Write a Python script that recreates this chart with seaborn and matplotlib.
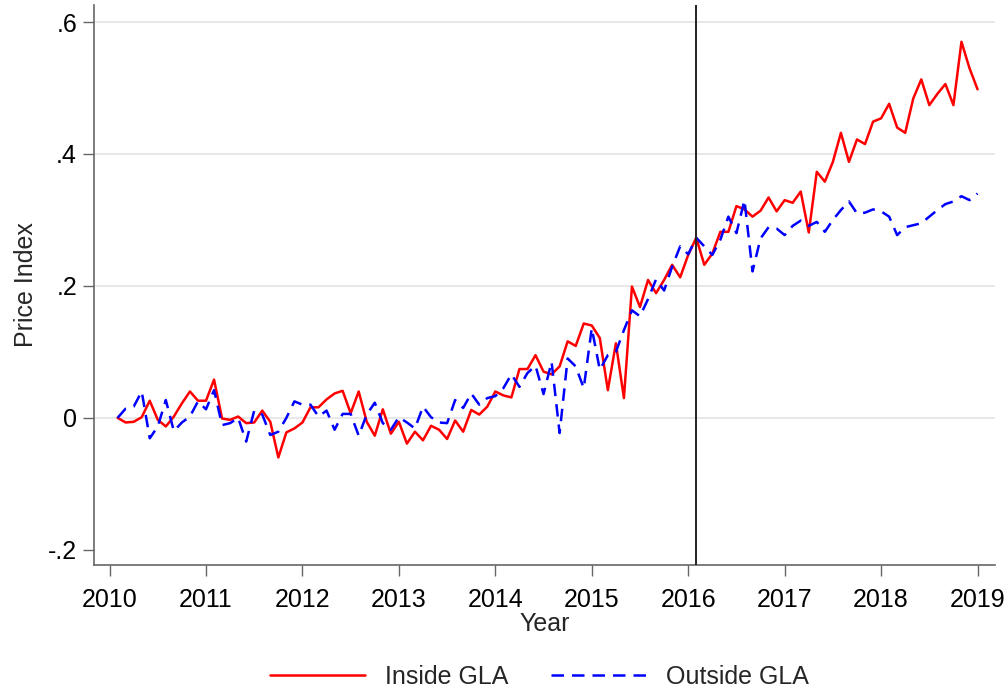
import numpy as np
import pandas as pd
import seaborn as sns
import matplotlib.pyplot as plt

# monthly price index, Jan 2010 - Dec 2018
months = pd.date_range('2010-01-01', periods=108, freq='MS')
year = months.year + months.month / 12

inside = [0.000, -0.007, -0.006, 0.001, 0.026, -0.003, -0.013, 0.002, 0.022, 0.040,
          0.026, 0.026, 0.058, -0.001, -0.003, 0.002, -0.008, -0.007, 0.011, -0.006,
          -0.060, -0.022, -0.016, -0.007, 0.016, 0.016, 0.028, 0.037, 0.041, 0.007,
          0.040, -0.006, -0.027, 0.013, -0.024, -0.006, -0.039, -0.021, -0.034, -0.012,
          -0.018, -0.032, -0.004, -0.021, 0.012, 0.005, 0.017, 0.040, 0.034, 0.031,
          0.074, 0.074, 0.095, 0.070, 0.066, 0.078, 0.116, 0.109, 0.143, 0.140,
          0.121, 0.042, 0.113, 0.030, 0.199, 0.168, 0.209, 0.189, 0.209, 0.232,
          0.213, 0.247, 0.273, 0.232, 0.249, 0.282, 0.282, 0.321, 0.316, 0.305,
          0.314, 0.334, 0.313, 0.330, 0.326, 0.343, 0.281, 0.373, 0.358, 0.388,
          0.432, 0.388, 0.422, 0.415, 0.449, 0.454, 0.476, 0.440, 0.432, 0.484,
          0.513, 0.474, 0.491, 0.506, 0.474, 0.570, 0.530, 0.498]

outside = [0.000, 0.014, 0.017, 0.040, -0.031, -0.013, 0.027, -0.020, -0.007, 0.002,
           0.025, 0.013, 0.042, -0.011, -0.008, 0.000, -0.036, 0.011, 0.005, -0.026,
           -0.021, 0.000, 0.025, 0.020, 0.020, 0.002, 0.011, -0.018, 0.006, 0.006,
           -0.027, 0.005, 0.023, -0.008, -0.018, 0.001, -0.007, -0.016, 0.017, 0.001,
           -0.007, -0.008, 0.027, 0.015, 0.037, 0.020, 0.030, 0.033, 0.045, 0.066,
           0.047, 0.068, 0.079, 0.036, 0.085, -0.023, 0.090, 0.078, 0.045, 0.136,
           0.073, 0.095, 0.100, 0.133, 0.163, 0.154, 0.180, 0.210, 0.193, 0.229,
           0.260, 0.248, 0.273, 0.260, 0.247, 0.270, 0.305, 0.280, 0.330, 0.222,
           0.272, 0.289, 0.287, 0.277, 0.291, 0.299, 0.291, 0.297, 0.282, 0.300,
           0.315, 0.328, 0.310, 0.311, 0.316, 0.313, 0.305, 0.277, 0.289, 0.292,
           0.295, 0.305, 0.315, 0.324, 0.328, 0.336, 0.330, 0.340]

groups = ['Inside GLA', 'Outside GLA']
policy_date = 2016 + 1 / 12
yticks = [-0.2, 0, 0.2, 0.4, 0.6]
ytick_labels = ['-.2', '0', '.2', '.4', '.6']
xticks = list(range(2010, 2020))

df = pd.DataFrame({
    'Year': np.concatenate([year, year]),
    'Price Index': inside + outside,
    'group': [groups[0]] * len(inside) + [groups[1]] * len(outside),
})

sns.set_theme(style='white')
plt.rcParams['font.family'] = ['Liberation Sans', 'DejaVu Sans']

fig, ax = plt.subplots(figsize=(10.08, 6.93), dpi=100)
fig.subplots_adjust(left=0.093, right=0.987, bottom=0.185, top=0.993)

sns.lineplot(data=df, x='Year', y='Price Index', hue='group', style='group',
             palette={groups[0]: '#ff0000', groups[1]: '#0000ff'},
             dashes={groups[0]: '', groups[1]: (5, 3.2)},
             linewidth=1.8, ax=ax)
ax.axvline(policy_date, color='#222222', lw=1.4, zorder=3)

ax.set_xlim(2009.836, 2019.18)
ax.set_ylim(-0.2227, 0.626)
ax.set_xticks(xticks)
ax.set_yticks(yticks)
ax.set_yticklabels(ytick_labels)
ax.tick_params(axis='both', labelsize=18, length=8, width=1, color='#666666',
               direction='out', pad=4, labelcolor='black')
ax.tick_params(axis='x', bottom=True, pad=9)
ax.tick_params(axis='y', left=True)

ax.yaxis.grid(True, color='#e6e6e6', lw=1.3)
ax.get_ygridlines()[0].set_visible(False)
ax.set_axisbelow(True)

for s in ['top', 'right']:
    ax.spines[s].set_visible(False)
for s in ['left', 'bottom']:
    ax.spines[s].set_color('#666666')
    ax.spines[s].set_linewidth(1.2)

ax.set_xlabel('Year', fontsize=18, labelpad=0)
ax.set_ylabel('Price Index', fontsize=18, labelpad=7)

sns.move_legend(ax, 'center', bbox_to_anchor=(0.495, -0.2), ncol=2, frameon=False,
                title=None, fontsize=18, handlelength=3.8, handletextpad=0.8,
                columnspacing=1.7)

fig.savefig('out.png', dpi=100)
